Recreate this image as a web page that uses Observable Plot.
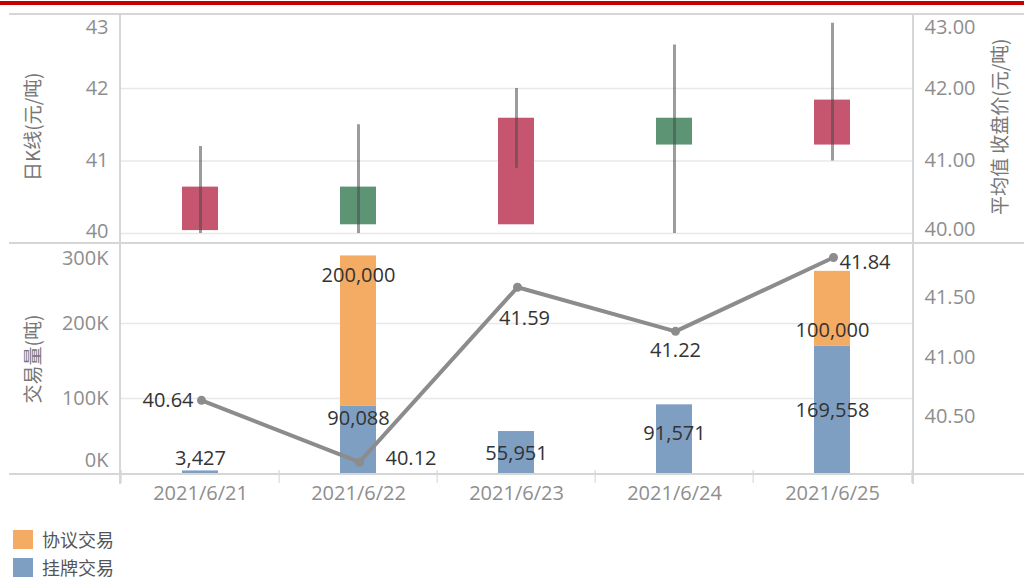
<!DOCTYPE html>
<html><head><meta charset="utf-8">
<script src="https://cdn.jsdelivr.net/npm/d3@7"></script>
<script src="https://cdn.jsdelivr.net/npm/@observablehq/plot@0.6"></script>
<style>
body{margin:0;background:#fff;}
#wrap{position:relative;width:1024px;height:579px;overflow:hidden;background:#fff;font-family:'Open Sans','Noto Sans CJK SC',sans-serif;}
.hl{position:absolute;height:2px;background:#d6d6d6;}
.vl{position:absolute;width:2px;background:#d6d6d6;}
.redbar{position:absolute;left:0;top:1px;width:1024px;height:4px;background:#c40000;}
.leg{position:absolute;left:13px;font-size:18px;color:#555;font-family:'Noto Sans CJK SC',sans-serif;}
.leg div{display:flex;align-items:center;height:28px;}
.leg span.sw{display:inline-block;width:20px;height:19px;margin-right:9px;}
</style></head><body><div id="wrap"></div>
<script>
// ---- data ----
const dates = ["2021/6/21","2021/6/22","2021/6/23","2021/6/24","2021/6/25"];
const openPrice  = [40.04, 40.64, 40.12, 41.59, 41.22];
const closePrice = [40.64, 40.12, 41.59, 41.22, 41.84];
const highPrice  = [41.20, 41.50, 42.00, 42.60, 42.90];
const lowPrice   = [40.00, 40.00, 40.90, 40.00, 41.00];
const seriesNames = ["挂牌交易", "协议交易"];
const listedVolume     = [3427, 90088, 55951, 91571, 169558];
const negotiatedVolume = [0, 200000, 0, 0, 100000];
const avgClose = [40.64, 40.12, 41.59, 41.22, 41.84];
const priceTicks = [40, 41, 42, 43];
const volumeTicks = [0, 100000, 200000, 300000];
const lineTicks = [40.5, 41.0, 41.5];
const titleK = "日K线(元/吨)";
const titleVol = "交易量(吨)";
const titleAvg = "平均值 收盘价(元/吨)";

// ---- styles ----
const RED = "#c6566f", GREEN = "#5d9473";
const BLUE = "#7f9fc2", ORANGE = "#f4ab63";
const LINE = "#8c8c8c";
const TICK = "#8e8e8e", LABEL = "#333333", TITLE = "#777777";
const FONT = "'Open Sans','Noto Sans CJK SC',sans-serif";
const CJK = "'Noto Sans CJK SC',sans-serif";
const W = 1024, ML = 120, MR = 111;
const step = (W - ML - MR) / dates.length;
const xOpts = {domain: dates, paddingInner: 0.77, paddingOuter: 0.385, axis: null};

const wrap = document.getElementById("wrap");
function place(el, top) {
  el.style.position = "absolute"; el.style.left = "0px"; el.style.top = top + "px";
  wrap.appendChild(el);
}
function yAxis(ticks, anchor, fmt, dy) {
  return Plot.axisY({ticks, anchor, tickFormat: fmt, tickSize: 0, tickPadding: anchor === "left" ? 12 : 11,
    dy, label: null, color: TICK, fill: TICK, fontSize: 20, fontFamily: FONT});
}
function title(text, side, dy) {
  return Plot.text([text], {frameAnchor: side, textAnchor: "middle", rotate: -90, dx: side === "left" ? -87 : 87, dy,
    fill: TITLE, fontSize: 19, fontFamily: CJK});
}
const f2 = d3.format(".2f");
const fK = d => (d / 1000) + "K";

// ---- top: candlesticks ----
const candles = dates.map((d, i) => ({date: d, open: openPrice[i], close: closePrice[i], high: highPrice[i], low: lowPrice[i]}));
const topPlot = Plot.plot({
  width: W, height: 229, marginLeft: ML, marginRight: MR, marginTop: 1.5, marginBottom: 10,
  style: {background: "transparent", fontFamily: FONT, overflow: "visible"},
  x: xOpts,
  y: {domain: [priceTicks[0], priceTicks[priceTicks.length - 1]]},
  color: {type: "identity"},
  marks: [
    Plot.gridY({ticks: priceTicks.slice(0, 3), stroke: "#e8e8e8", strokeOpacity: 1, strokeWidth: 1.5}),
    Plot.barY(candles, {x: "date", y1: "open", y2: "close", fill: d => d.close > d.open ? RED : GREEN}),
    Plot.ruleX(candles, {x: "date", y1: "low", y2: "high", stroke: "#4a4a4a", strokeOpacity: 0.55, strokeWidth: 3}),
    yAxis([priceTicks[0]], "left", d3.format("d"), -2),
    yAxis(priceTicks.slice(1, 3), "left", d3.format("d"), 0),
    yAxis([priceTicks[3]], "left", d3.format("d"), 11.5),
    yAxis([priceTicks[0]], "right", f2, -4),
    yAxis(priceTicks.slice(1, 3), "right", f2, 0),
    yAxis([priceTicks[3]], "right", f2, 11.5),
    title(titleK, "left", 2),
    title(titleAvg, "right", 2)
  ]
});
place(topPlot, 14);

// ---- bottom: stacked volume bars ----
const rows = [];
dates.forEach((d, i) => {
  rows.push({date: d, series: seriesNames[0], value: listedVolume[i], top: listedVolume[i]});
  rows.push({date: d, series: seriesNames[1], value: negotiatedVolume[i], top: listedVolume[i] + negotiatedVolume[i]});
});
// label offsets (px) relative to each segment's top
const barLabelDy = {"2021/6/21|挂牌交易": -12, "2021/6/22|挂牌交易": 13, "2021/6/22|协议交易": 20,
  "2021/6/23|挂牌交易": 22, "2021/6/24|挂牌交易": 29, "2021/6/25|挂牌交易": 64, "2021/6/25|协议交易": 59};
const fmtN = d3.format(",");
const barLabels = rows.filter(r => r.value > 0).map(r =>
  Plot.text([r], {x: "date", y: "top", text: d => fmtN(d.value), dy: barLabelDy[r.date + "|" + r.series] || 0,
    fill: LABEL, fontSize: 20, fontFamily: FONT}));

const BH = 270, BMT = 5, BMB = 40;
const bottomPlot = Plot.plot({
  width: W, height: BH, marginLeft: ML, marginRight: MR, marginTop: BMT, marginBottom: BMB,
  style: {background: "transparent", fontFamily: FONT, overflow: "visible"},
  x: xOpts,
  y: {domain: [volumeTicks[0], volumeTicks[3]]},
  color: {domain: seriesNames, range: [BLUE, ORANGE]},
  marks: [
    Plot.gridY({ticks: volumeTicks.slice(1, 3), stroke: "#e8e8e8", strokeOpacity: 1, strokeWidth: 1.5}),
    Plot.barY(rows, {x: "date", y: "value", fill: "series"}),
    ...barLabels,
    yAxis([volumeTicks[0]], "left", fK, -13),
    yAxis(volumeTicks.slice(1, 3), "left", fK, 0),
    yAxis([volumeTicks[3]], "left", fK, 10),
    Plot.axisX({tickSize: 0, tickPadding: 12, color: TICK, fill: TICK, fontSize: 20, fontFamily: FONT, label: null}),
    Plot.ruleX(dates, {x: d => d, dx: -step / 2, insetTop: BH - BMT - BMB - 3, insetBottom: -10, stroke: "#e2e2e2", strokeWidth: 1.5}),
    Plot.ruleX([dates[dates.length - 1]], {x: d => d, dx: step / 2, insetTop: BH - BMT - BMB - 3, insetBottom: -10, stroke: "#e2e2e2", strokeWidth: 1.5}),
    title(titleVol, "left", -2)
  ]
});
place(bottomPlot, 243);

// ---- bottom overlay: average close line with right axis ----
const pts = dates.map((d, i) => ({date: d, value: avgClose[i]}));
const lineLabelPos = [
  {textAnchor: "end", dx: -8, dy: 0},
  {textAnchor: "start", dx: 26, dy: -4},
  {textAnchor: "middle", dx: 7, dy: 31},
  {textAnchor: "middle", dx: 0, dy: 19},
  {textAnchor: "start", dx: 6, dy: 5}
];
const lineLabels = pts.map((p, i) => Plot.text([p], {x: "date", y: "value", text: d => f2(d.value),
  ...lineLabelPos[i], fill: LABEL, fontSize: 20, fontFamily: FONT}));
const overlay = Plot.plot({
  width: W, height: BH, marginLeft: ML, marginRight: MR, marginTop: BMT, marginBottom: BMB,
  style: {background: "transparent", fontFamily: FONT, overflow: "visible"},
  x: xOpts,
  y: {domain: [40.025, 41.916]},
  marks: [
    Plot.line(pts, {x: "date", y: "value", stroke: LINE, strokeWidth: 4}),
    Plot.dot(pts, {x: "date", y: "value", r: 4.5, fill: LINE, stroke: "none"}),
    ...lineLabels,
    yAxis(lineTicks, "right", f2, 0)
  ]
});
place(overlay, 243);

// ---- frame decorations ----
const deco = [
  ["redbar", {}],
  ["hl", {left: "9px", top: "13px", width: "1015px"}],
  ["hl", {left: "9px", top: "242px", width: "1015px"}],
  ["hl", {left: "9px", top: "473px", width: "1015px"}],
  ["vl", {left: "119px", top: "14px", height: "470px"}],
  ["vl", {left: "912px", top: "14px", height: "470px"}]
];
deco.forEach(([cls, st]) => { const e = document.createElement("div"); e.className = cls; Object.assign(e.style, st); wrap.appendChild(e); });

// ---- legend ----
const legend = document.createElement("div");
legend.className = "leg";
legend.style.top = "525px";
const legendOrder = [seriesNames[1], seriesNames[0]];
const legendColor = {[seriesNames[0]]: BLUE, [seriesNames[1]]: ORANGE};
legendOrder.forEach(n => {
  const r = document.createElement("div");
  r.innerHTML = `<span class="sw" style="background:${legendColor[n]}"></span><span>${n}</span>`;
  legend.appendChild(r);
});
wrap.appendChild(legend);
</script></body></html>
